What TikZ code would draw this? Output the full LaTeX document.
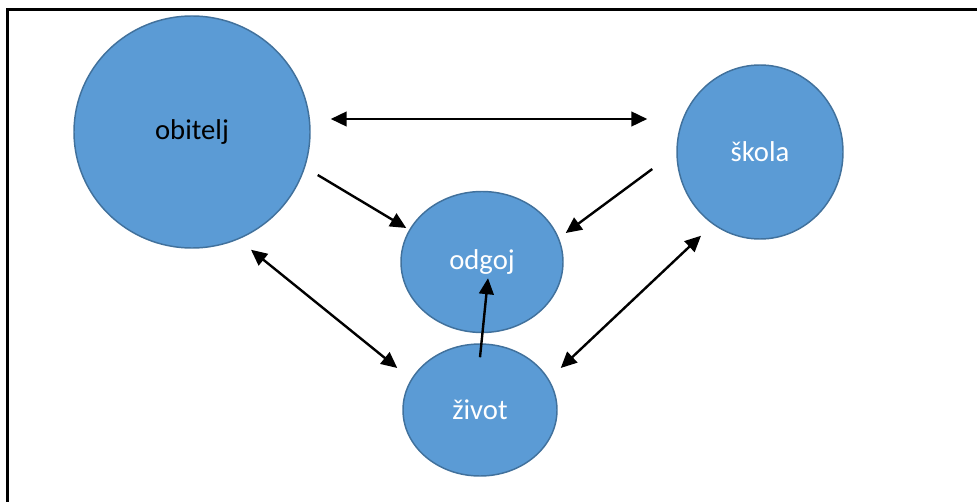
\documentclass[tikz,border=0pt]{standalone}
\usepackage{fontspec}
\setmainfont{Carlito}
\usepackage{tikz}
\usetikzlibrary{arrows.meta,calc,shapes.geometric}
\definecolor{blobfill}{HTML}{5B9BD5}
\definecolor{blobedge}{HTML}{41719C}

\begin{document}
\begin{tikzpicture}[x=0.75pt,y=-0.75pt,
  blob/.style={ellipse,draw=blobedge,line width=1.1pt,fill=blobfill,inner sep=0pt,
    font=\fontsize{21.5}{25}\selectfont,text=white},
  lnk/.style={line width=1.8pt,-{Triangle[length=12pt,width=11pt]}},
  dlnk/.style={line width=1.8pt,{Triangle[length=12pt,width=11pt]}-{Triangle[length=12pt,width=11pt]}}]
\useasboundingbox (0,0) rectangle (977,502);
% frame
\draw[line width=1.8pt] (7.5,502) -- (7.5,9.5) -- (977,9.5);
% the four circles
\node[blob,minimum width=177pt,minimum height=174pt,text=black] (obitelj) at (192,132) {obitelj};
\node[blob,minimum width=124.5pt,minimum height=130.5pt] (skola) at (760,152) {škola};
\node[blob,minimum width=121.5pt,minimum height=105.75pt] (odgoj) at (482,262) {odgoj};
\node[blob,minimum width=115.5pt,minimum height=99pt] (zivot) at (480,410) {život};
% arrows
\draw[dlnk] ($(obitelj.east)+(20,-13)$) -- ($(skola.west)+(-29,-33)$);
\draw[lnk] ($(obitelj.east)+(7,43)$) -- ($(odgoj.west)+(6,-34)$);
\draw[lnk] ($(skola.west)+(-24,17)$) -- ($(odgoj.east)+(2,-29)$);
\draw[lnk] ($(zivot.north)+(0,14)$) -- ($(odgoj.south)+(6,-55)$);
\draw[dlnk] ($(obitelj.south)+(59,1)$) -- ($(zivot.west)+(-5,-42)$);
\draw[dlnk] ($(skola.south)+(-59,-4)$) -- ($(zivot.east)+(3,-42)$);
\end{tikzpicture}
\end{document}
